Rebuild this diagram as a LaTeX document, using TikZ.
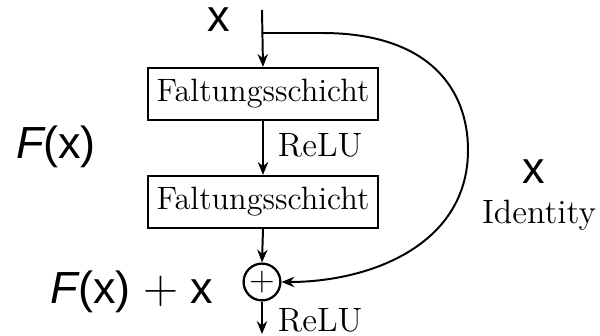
\documentclass[tikz,border=0pt]{standalone}
\usepackage{fontspec}
\newfontfamily\lblfont{Liberation Sans}
\usetikzlibrary{positioning,arrows.meta}

\begin{document}
\begin{tikzpicture}[
  x=0.0125cm, y=-0.0125cm,
  >={Stealth[length=1.6mm, width=1.3mm]},
  line width=0.7pt,
  layer/.style={draw, line width=0.8pt, minimum width=2.875cm, minimum height=0.65cm,
                inner sep=0pt, font=\fontsize{11.5}{13}\selectfont},
  addop/.style={circle, draw, line width=0.8pt, minimum size=0.46cm, inner sep=0pt,
                font=\fontsize{12}{13}\selectfont},
  act/.style={font=\fontsize{12}{13}\selectfont, anchor=west, inner sep=0pt},
  math/.style={font=\lblfont\fontsize{16}{18}\selectfont, inner sep=0pt},
]
% ---- frame (600 x 336 px) ----
\useasboundingbox (0,0) rectangle (600,336);

% ---- main path ----
\coordinate (in) at (262,10);
\coordinate (split) at (262,33);
\node[layer] (conv1) at (263,94) {Faltungsschicht};
\node[layer] (conv2) at (263,202) {Faltungsschicht};
\node[addop] (add) at (262,282) {$+$};
\coordinate (out) at (262,334);

\draw[->] (in) -- (conv1.north);
\draw[->] (conv1.south) -- (conv2.north);
\draw[->] (conv2.south) -- (add.north);
\draw[->] (add.south) -- (out);

% ---- shortcut ----
\draw[->] (split) -- ++(60,0) .. controls (430,33) and (468,90) .. (468,150)
  .. controls (468,245) and (370,282) .. (add.east);

% ---- labels ----
\node[math] (xin) at (219,20) {x};
\node[act] (relu1) at (277,145) {ReLU};
\node[act] (relu2) at (277,320) {ReLU};
\node[math] (fx) at (56,147) {{\itshape F}(x)};
\node[math] (fxx) at (132,292) {{\itshape F}(x)\;$+$\;x};
\node[math] (xid) at (534,172) {x};
\node[act, anchor=center] (ident) at (539,215) {Identity};
\end{tikzpicture}
\end{document}
